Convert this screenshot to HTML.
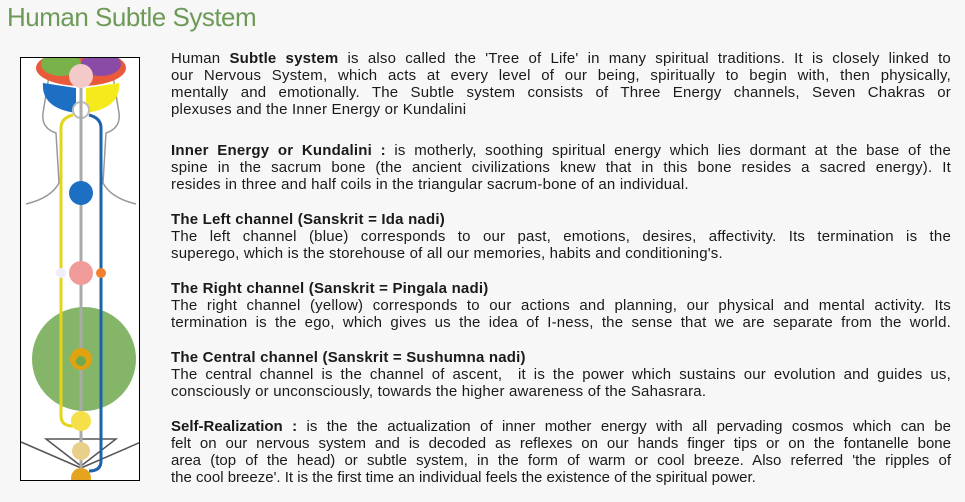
<!DOCTYPE html>
<html><head><meta charset="utf-8"><style>
body{margin:0;width:965px;height:502px;background:#f7f7f7;overflow:hidden;font-family:"Liberation Sans",sans-serif;color:#1a1a1a;position:relative}
h1{position:absolute;left:7px;top:2px;margin:0;font-weight:normal;font-size:26px;color:#6e9a58;letter-spacing:-0.5px;font-family:"Liberation Sans Narrow","Liberation Sans",sans-serif}
#img{position:absolute;left:20px;top:57px;width:120px;height:424px;border:1px solid #000;background:#fff;box-sizing:border-box;overflow:hidden}
.l{position:absolute;left:171px;width:780px;font-size:15px;line-height:17px;height:17px;white-space:nowrap;text-align:justify;text-align-last:justify;letter-spacing:0.2px}
.e{text-align-last:left}
.c{letter-spacing:0}
</style></head><body>
<h1>Human Subtle System</h1>
<div id="img">
<svg width="120" height="424" viewBox="0 0 120 424">
<path d="M5 146 Q30 140 38 125 L35 75 Q20 70 22 55 L28 18 M115 146 Q90 140 82 125 L85 75 Q100 70 98 55 L92 18" stroke="#999" fill="none" stroke-width="1.5"/>
<path d="M0 384 L60 410 L120 384 M25 381 L95 381 L60 408 Z" stroke="#555" fill="none" stroke-width="1.5"/>
<ellipse cx="60" cy="10" rx="45" ry="18" fill="#e85a3a"/>
<ellipse cx="40" cy="6" rx="20" ry="12" fill="#79b24a"/>
<ellipse cx="80" cy="6" rx="20" ry="12" fill="#8a4ba6"/>
<path d="M22 25 Q20 50 55 55 L55 30 Z" fill="#1d6fc4"/>
<path d="M98 25 Q100 50 65 55 L65 30 Z" fill="#f5ea1c"/>
<circle cx="60" cy="18" r="12" fill="#f3c9c9"/>
<circle cx="60" cy="52" r="8" fill="#fff" stroke="#bbb" stroke-width="2"/>
<circle cx="63" cy="301" r="52" fill="#6fa84f" opacity="0.85"/>
<line x1="60" y1="30" x2="60" y2="420" stroke="#aaa" stroke-width="3"/>
<path d="M52 57 Q40 60 40 70 L40 358 Q40 368 52 368" stroke="#e3d41c" fill="none" stroke-width="3"/>
<path d="M68 57 Q80 60 80 70 L80 403 Q80 413 68 413" stroke="#1d63ac" fill="none" stroke-width="3"/>
<circle cx="60" cy="135" r="12" fill="#1d6fc4"/>
<circle cx="60" cy="215" r="12" fill="#f19a9a"/>
<circle cx="40" cy="215" r="5" fill="#eef"/>
<circle cx="80" cy="215" r="5" fill="#f08030"/>
<circle cx="60" cy="301" r="11" fill="#e0a310"/>
<circle cx="60" cy="303" r="5" fill="#6fa84f"/>
<circle cx="60" cy="363" r="10" fill="#f5e04a"/>
<circle cx="60" cy="393" r="9" fill="#e8d08a"/>
<circle cx="60" cy="420" r="10" fill="#e5a320"/>
</svg></div>

<div>
<div class="l" style="top:50px">Human <b>Subtle system</b> is also called the 'Tree of Life' in many spiritual traditions. It is closely linked to</div>
<div class="l" style="top:67px">our Nervous System, which acts at every level of our being, spiritually to begin with, then physically,</div>
<div class="l" style="top:84px">mentally and emotionally. The Subtle system consists of Three Energy channels, Seven Chakras or</div>
<div class="l e" style="top:101px">plexuses and the Inner Energy or Kundalini</div>
</div>
<div>
<div class="l" style="top:142px"><b>Inner Energy or Kundalini :</b> is motherly, soothing spiritual energy which lies dormant at the base of the</div>
<div class="l" style="top:159px">spine in the sacrum bone (the ancient civilizations knew that in this bone resides a sacred energy). It</div>
<div class="l e" style="top:176px">resides in three and half coils in the triangular sacrum-bone of an individual.</div>
</div>
<div>
<div class="l e" style="top:211px"><b>The Left channel (Sanskrit = Ida nadi)</b></div>
<div class="l" style="top:228px">The left channel (blue) corresponds to our past, emotions, desires, affectivity. Its termination is the</div>
<div class="l e" style="top:245px">superego, which is the storehouse of all our memories, habits and conditioning's.</div>
</div>
<div>
<div class="l e" style="top:280px"><b>The Right channel (Sanskrit = Pingala nadi)</b></div>
<div class="l" style="top:297px">The right channel (yellow) corresponds to our actions and planning, our physical and mental activity. Its</div>
<div class="l" style="top:314px">termination is the ego, which gives us the idea of I-ness, the sense that we are separate from the world.</div>
</div>
<div>
<div class="l e" style="top:349px"><b>The Central channel (Sanskrit = Sushumna nadi)</b></div>
<div class="l" style="top:366px">The central channel is the channel of ascent,&nbsp; it is the power which sustains our evolution and guides us,</div>
<div class="l e" style="top:383px">consciously or unconsciously, towards the higher awareness of the Sahasrara.</div>
</div>
<div>
<div class="l c" style="top:418px"><b>Self-Realization :</b> is the the actualization of inner mother energy with all pervading cosmos which can be</div>
<div class="l c" style="top:435px">felt on our nervous system and is decoded as reflexes on our hands finger tips or on the fontanelle bone</div>
<div class="l c" style="top:452px">area (top of the head) or subtle system, in the form of warm or cool breeze. Also referred 'the ripples of</div>
<div class="l c e" style="top:469px">the cool breeze'. It is the first time an individual feels the existence of the spiritual power.</div>
</div>
</body></html>
